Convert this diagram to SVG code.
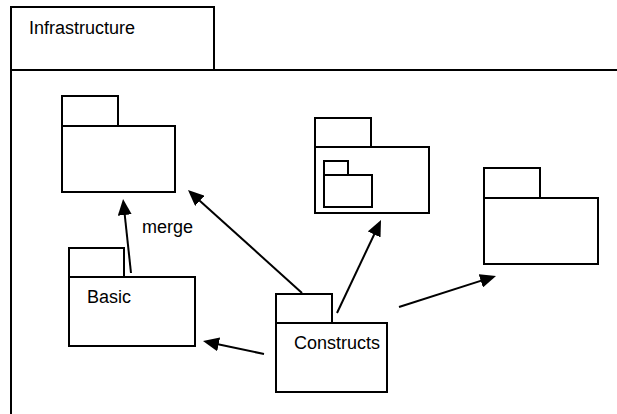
<svg xmlns="http://www.w3.org/2000/svg" width="617" height="414" viewBox="0 0 617 414">
  <style>
    .box { fill: #fff; stroke: #000; stroke-width: 2; }
    .frame { fill: none; stroke: #000; stroke-width: 2; }
    .edge { fill: none; stroke: #000; stroke-width: 2; marker-end: url(#head); }
    .label { font-family: "Liberation Sans", Arial, sans-serif; font-size: 18px; fill: #000; }
  </style>
  <defs>
    <marker id="head" viewBox="0 0 16 14" refX="8" refY="7" markerWidth="16" markerHeight="14" markerUnits="userSpaceOnUse" orient="auto">
      <path d="M0,0 L16,7 L0,14 z" fill="#000"/>
    </marker>
  </defs>
  <rect width="617" height="414" fill="#fff"/>

  <!-- enclosing package: Infrastructure -->
  <g id="infrastructure">
    <rect class="frame" x="11" y="7" width="203" height="63"/>
    <path class="frame" d="M11,70 H617 M11,70 V414"/>
    <text class="label" x="29" y="34">Infrastructure</text>
  </g>

  <!-- unnamed package, top left -->
  <g id="pkg-top-left">
    <rect class="box" x="62" y="96" width="56" height="30"/>
    <rect class="box" x="62" y="126" width="113" height="66"/>
  </g>

  <!-- package containing a nested package -->
  <g id="pkg-nested">
    <rect class="box" x="315" y="118" width="56" height="29"/>
    <rect class="box" x="315" y="147" width="114" height="66"/>
    <rect class="box" x="324" y="161" width="24" height="14"/>
    <rect class="box" x="324" y="175" width="48" height="32"/>
  </g>

  <!-- unnamed package, right -->
  <g id="pkg-right">
    <rect class="box" x="484" y="168" width="56" height="30"/>
    <rect class="box" x="484" y="198" width="114" height="66"/>
  </g>

  <!-- Basic -->
  <g id="basic">
    <rect class="box" x="69" y="248" width="55" height="29"/>
    <rect class="box" x="69" y="277" width="126" height="69"/>
    <text class="label" x="87" y="303">Basic</text>
  </g>

  <!-- Constructs -->
  <g id="constructs">
    <rect class="box" x="276" y="294" width="56" height="29"/>
    <rect class="box" x="276" y="323" width="111" height="69"/>
    <text class="label" x="294" y="349">Constructs</text>
  </g>

  <!-- dependencies -->
  <g id="connectors">
    <path class="edge" d="M131,273 L123.9,207"/>
    <text class="label" x="142" y="233">merge</text>
    <path class="edge" d="M302,293 L193.9,195.4"/>
    <path class="edge" d="M337,313 L377.6,227.2"/>
    <path class="edge" d="M399,307 L488.4,278.4"/>
    <path class="edge" d="M264,354 L210.8,342.7"/>
  </g>
</svg>
